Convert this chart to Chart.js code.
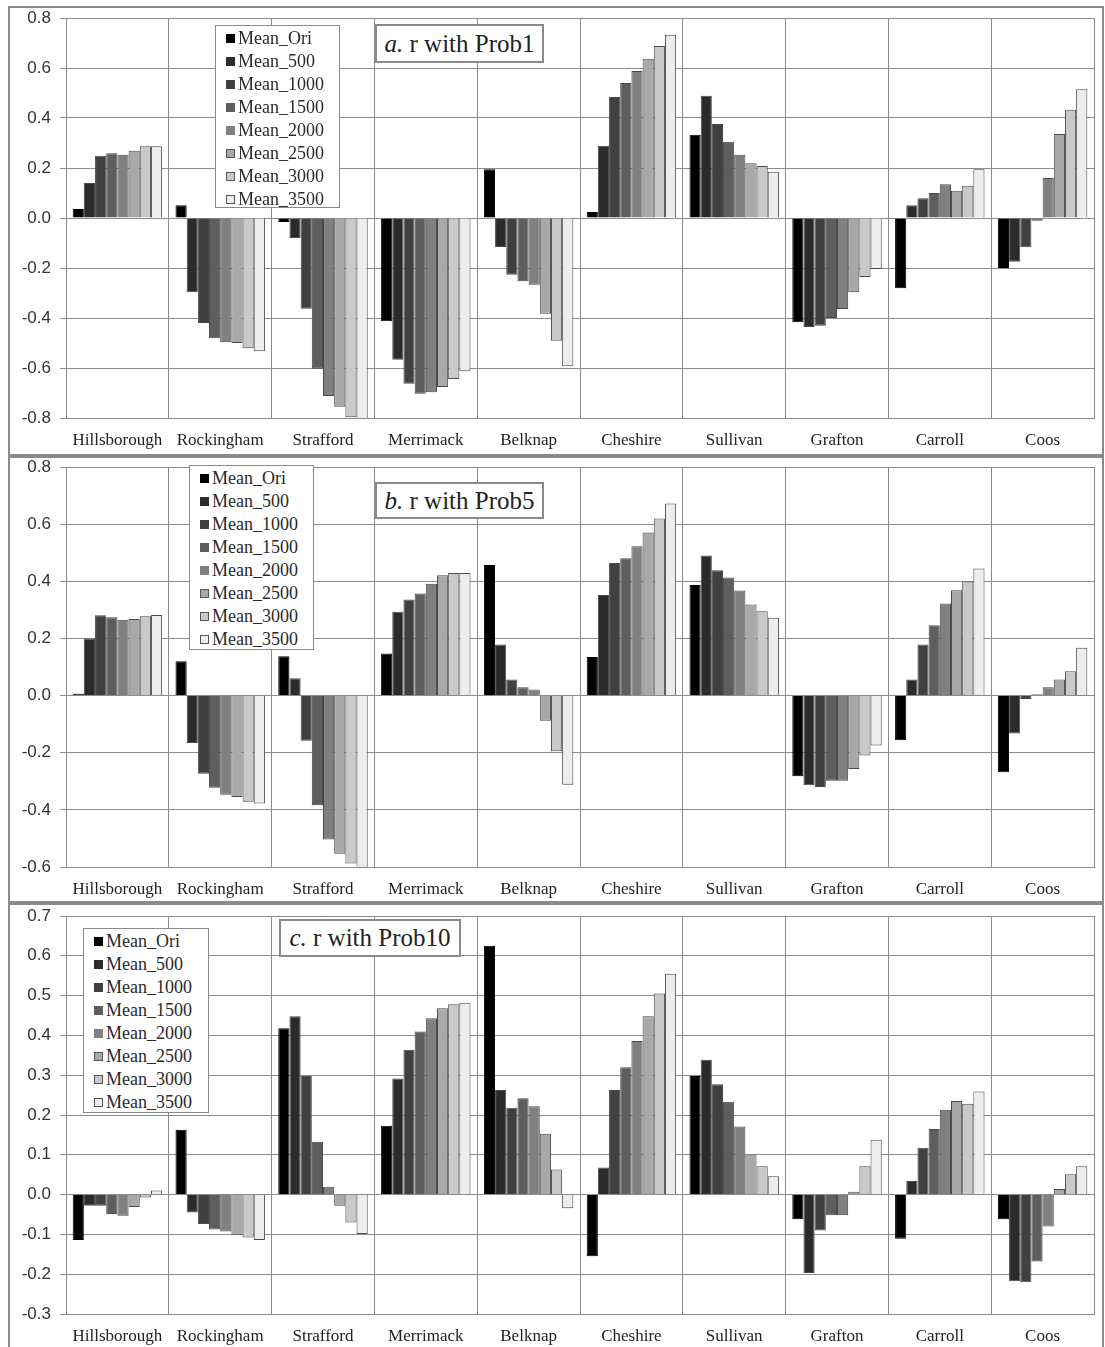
<!DOCTYPE html>
<html>
<head>
<meta charset="utf-8">
<script src="https://cdn.jsdelivr.net/npm/chart.js@4/dist/chart.umd.min.js"></script>
<style>
  html, body { margin:0; padding:0; background:#fff; width:1105px; height:1347px; overflow:hidden; }
  .panel { position:absolute; left:8px; width:1096px; box-sizing:border-box; border:2px solid #8a8a8a; background:#fff; }
  .panel canvas { position:absolute; left:0; top:0; }
  .legend { position:absolute; box-sizing:border-box; border:1px solid #8a8a8a; background:#fff;
            font-family:"Liberation Serif","Times New Roman",serif; font-size:18px; color:#2a2a2a; padding-top:1px; }
  .legend .row { height:23px; line-height:23px; white-space:nowrap; padding-left:10px; }
  .legend .sw { display:inline-block; width:9px; height:9px; box-sizing:border-box; border:1px solid #555; margin-right:3px; vertical-align:1px; }
  .title { position:absolute; box-sizing:border-box; border:2px solid #8a8a8a; background:#fff;
           font-family:"Liberation Serif","Times New Roman",serif; font-size:25px; color:#222; text-align:center; white-space:nowrap; }
</style>
</head>
<body>
<script>
// ---- data ----
const counties = ['Hillsborough','Rockingham','Strafford','Merrimack','Belknap','Cheshire','Sullivan','Grafton','Carroll','Coos'];
const seriesNames = ['Mean_Ori','Mean_500','Mean_1000','Mean_1500','Mean_2000','Mean_2500','Mean_3000','Mean_3500'];
const seriesColors = ['#000000','#2b2b2b','#404040','#5e5e5e','#808080','#a8a8a8','#c9c9c9','#ededed'];

// a. r with Prob1
const a_Ori  = [0.036, 0.051, -0.016, -0.413, 0.195, 0.024, 0.333, -0.417, -0.281, -0.200];
const a_500  = [0.140, -0.297, -0.080, -0.567, -0.116, 0.289, 0.489, -0.436, 0.051, -0.175];
const a_1000 = [0.249, -0.420, -0.363, -0.663, -0.227, 0.484, 0.376, -0.431, 0.079, -0.117];
const a_1500 = [0.259, -0.481, -0.603, -0.703, -0.253, 0.540, 0.305, -0.400, 0.100, -0.011];
const a_2000 = [0.253, -0.497, -0.712, -0.697, -0.267, 0.588, 0.253, -0.364, 0.135, 0.160];
const a_2500 = [0.269, -0.500, -0.755, -0.676, -0.383, 0.637, 0.219, -0.297, 0.109, 0.336];
const a_3000 = [0.287, -0.521, -0.797, -0.644, -0.491, 0.688, 0.208, -0.236, 0.129, 0.433];
const a_3500 = [0.287, -0.533, -0.810, -0.613, -0.593, 0.733, 0.185, -0.204, 0.195, 0.515];

// b. r with Prob5
const b_Ori  = [0.006, 0.120, 0.138, 0.147, 0.457, 0.135, 0.387, -0.282, -0.156, -0.268];
const b_500  = [0.200, -0.166, 0.061, 0.293, 0.179, 0.352, 0.490, -0.314, 0.056, -0.133];
const b_1000 = [0.281, -0.274, -0.158, 0.336, 0.056, 0.464, 0.439, -0.320, 0.179, -0.012];
const b_1500 = [0.274, -0.323, -0.384, 0.357, 0.029, 0.481, 0.413, -0.298, 0.246, 0.005];
const b_2000 = [0.265, -0.347, -0.504, 0.391, 0.021, 0.523, 0.368, -0.298, 0.322, 0.029];
const b_2500 = [0.268, -0.355, -0.554, 0.421, -0.088, 0.571, 0.319, -0.257, 0.369, 0.056];
const b_3000 = [0.278, -0.372, -0.588, 0.429, -0.195, 0.620, 0.295, -0.210, 0.399, 0.085];
const b_3500 = [0.282, -0.378, -0.610, 0.429, -0.312, 0.672, 0.272, -0.175, 0.445, 0.167];

// c. r with Prob10
const c_Ori  = [-0.114, 0.163, 0.418, 0.173, 0.625, -0.155, 0.298, -0.062, -0.111, -0.062];
const c_500  = [-0.028, -0.045, 0.448, 0.292, 0.263, 0.068, 0.339, -0.197, 0.034, -0.218];
const c_1000 = [-0.028, -0.074, 0.298, 0.364, 0.218, 0.263, 0.277, -0.090, 0.118, -0.220];
const c_1500 = [-0.049, -0.088, 0.133, 0.410, 0.242, 0.320, 0.233, -0.052, 0.165, -0.168];
const c_2000 = [-0.053, -0.093, 0.020, 0.443, 0.222, 0.386, 0.171, -0.052, 0.213, -0.080];
const c_2500 = [-0.031, -0.101, -0.028, 0.468, 0.153, 0.448, 0.099, 0.007, 0.235, 0.014];
const c_3000 = [-0.007, -0.108, -0.070, 0.478, 0.063, 0.505, 0.071, 0.071, 0.228, 0.051];
const c_3500 = [0.010, -0.114, -0.099, 0.482, -0.034, 0.555, 0.046, 0.138, 0.259, 0.071];

const yTicksA = {min:-0.8, max:0.8, step:0.2};
const yTicksB = {min:-0.6, max:0.8, step:0.2};
const yTicksC = {min:-0.3, max:0.7, step:0.1};

// ---- layout ----
const panels = [
  { id:'a', letter:'a.', rest:' r with Prob1', series:[a_Ori,a_500,a_1000,a_1500,a_2000,a_2500,a_3000,a_3500], ticks:yTicksA,
    top:6, height:450, padTop:10, xH:36,
    legend:{left:215, top:25, w:125, h:183}, title:{left:375, top:24, w:169, h:39} },
  { id:'b', letter:'b.', rest:' r with Prob5', series:[b_Ori,b_500,b_1000,b_1500,b_2000,b_2500,b_3000,b_3500], ticks:yTicksB,
    top:456, height:447, padTop:9, xH:34,
    legend:{left:189, top:465, w:125, h:185}, title:{left:375, top:482, w:169, h:37} },
  { id:'c', letter:'c.', rest:' r with Prob10', series:[c_Ori,c_500,c_1000,c_1500,c_2000,c_2500,c_3000,c_3500], ticks:yTicksC,
    top:903, height:448, padTop:11, xH:35,
    legend:{left:83, top:928, w:126, h:185}, title:{left:279, top:919, w:182, h:38} }
];

const gridColor = '#8c8c8c';

panels.forEach(p => {
  const div = document.createElement('div');
  div.className = 'panel';
  div.style.top = p.top + 'px';
  div.style.height = p.height + 'px';
  document.body.appendChild(div);
  const cw = 1092, ch = p.height - 4;
  const cv = document.createElement('canvas');
  cv.width = cw; cv.height = ch;
  cv.style.width = cw + 'px'; cv.style.height = ch + 'px';
  div.appendChild(cv);

  const datasets = seriesNames.map((n, i) => ({
    label: n,
    data: p.series[i],
    backgroundColor: seriesColors[i],
    borderColor: i === 0 ? '#000' : '#4a4a4a',
    borderWidth: 1,
    categoryPercentage: 0.87,
    barPercentage: 1.0,
    clip: 0
  }));

  new Chart(cv, {
    type: 'bar',
    data: { labels: counties, datasets },
    options: {
      responsive: false,
      animation: false,
      events: [],
      layout: { padding: { top: p.padTop, right: 8, left: 0, bottom: 0 } },
      plugins: { legend: { display: false }, tooltip: { enabled: false }, title: { display: false } },
      scales: {
        x: {
          grid: { offset: true, color: gridColor, drawTicks: false, lineWidth: 1 },
          border: { display: true, color: gridColor },
          ticks: { color: '#222', font: { family: '"Liberation Serif", "Times New Roman", serif', size: 17 }, padding: 12, maxRotation: 0, autoSkip: false },
          afterFit: s => { s.height = p.xH; s.paddingLeft = 0; s.paddingRight = 0; }
        },
        y: {
          min: p.ticks.min, max: p.ticks.max,
          grid: { color: gridColor, tickLength: 6, lineWidth: 1 },
          border: { display: true, color: gridColor },
          ticks: { stepSize: p.ticks.step, color: '#333', padding: 9,
                   font: { family: '"Liberation Sans", Arial, sans-serif', size: 17 },
                   callback: v => (Math.abs(v) < 1e-9 ? 0 : v).toFixed(1) },
          afterFit: s => { s.width = 56; s.paddingTop = 0; s.paddingBottom = 0; }
        }
      }
    }
  });

  // legend box
  const lg = document.createElement('div');
  lg.className = 'legend';
  Object.assign(lg.style, { left: p.legend.left + 'px', top: p.legend.top + 'px', width: p.legend.w + 'px', height: p.legend.h + 'px' });
  seriesNames.forEach((n, i) => {
    const r = document.createElement('div');
    r.className = 'row';
    const sw = document.createElement('span');
    sw.className = 'sw';
    sw.style.background = seriesColors[i];
    if (i < 5) sw.style.borderColor = seriesColors[i];
    r.appendChild(sw);
    r.appendChild(document.createTextNode(n));
    lg.appendChild(r);
  });
  document.body.appendChild(lg);

  // title box
  const tb = document.createElement('div');
  tb.className = 'title';
  Object.assign(tb.style, { left: p.title.left + 'px', top: p.title.top + 'px', width: p.title.w + 'px', height: p.title.h + 'px', lineHeight: (p.title.h - 4) + 'px' });
  const it = document.createElement('i');
  it.textContent = p.letter;
  tb.appendChild(it);
  tb.appendChild(document.createTextNode(p.rest));
  document.body.appendChild(tb);
});
</script>
</body>
</html>
